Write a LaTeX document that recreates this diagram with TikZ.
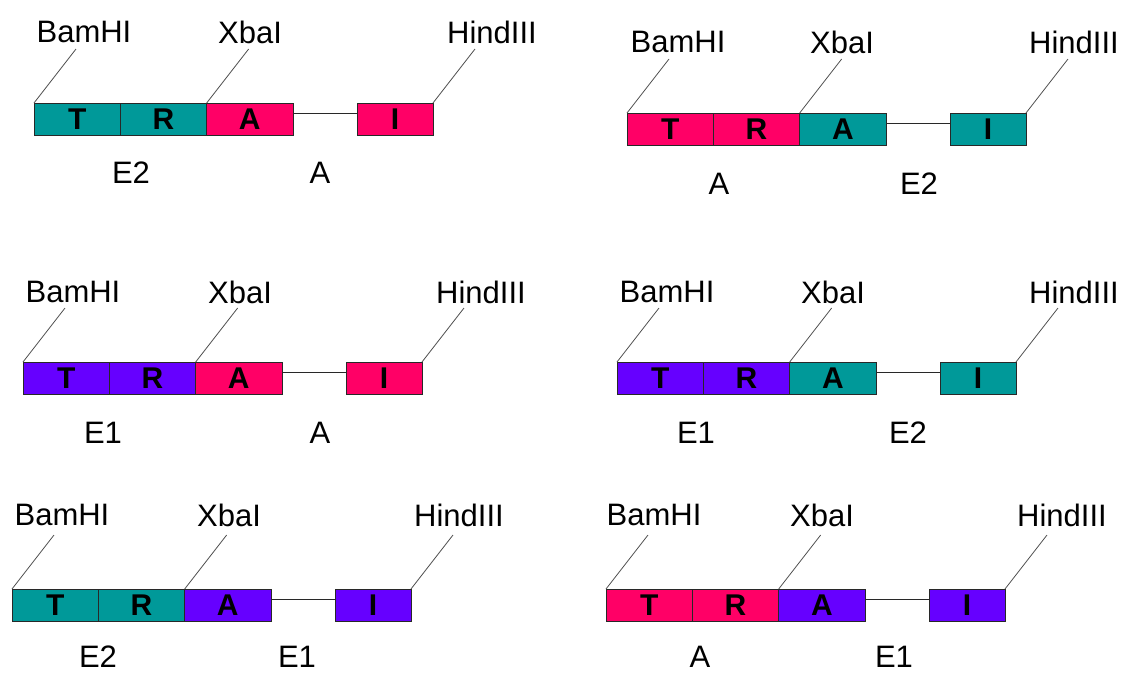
\documentclass[tikz,border=0pt]{standalone}
\usepackage{fontspec}
\setmainfont{Liberation Sans}
\usetikzlibrary{calc}
\definecolor{tealc}{RGB}{0,153,153}
\definecolor{pinkc}{RGB}{255,0,102}
\definecolor{purpc}{RGB}{102,0,255}
\definecolor{edgec}{RGB}{40,40,40}
\definecolor{diagc}{RGB}{80,80,80}
\tikzset{
  seg/.style={draw=edgec, line width=0.9pt, minimum width=86.33pt, minimum height=32pt,
    inner sep=0pt, outer sep=0pt, anchor=north west,
    font=\fontsize{30}{30}\selectfont\bfseries, text=black},
  segI/.style={seg, minimum width=76pt},
  wire/.style={draw=edgec, line width=0.9pt},
  diag/.style={draw=diagc, line width=0.8pt},
  site/.style={inner sep=0pt, font=\fontsize{31}{31}\selectfont, text=black},
  gene/.style={inner sep=0pt, font=\fontsize{31}{31}\selectfont, text=black}
}
\newcommand\cons[5]{%
  \node[seg, fill=#4] (#1T) at (#2,#3) {T};
  \node[seg, fill=#4] (#1R) at (#1T.north east) {R};
  \node[seg, fill=#5] (#1A) at (#1R.north east) {A};
  \node[segI, fill=#5] (#1I) at ($(#1A.north east)+(64,0)$) {I};
  \draw[wire] ($(#1A.north east)+(0,10.7)$) -- ($(#1I.north west)+(0,10.7)$);
  \coordinate (#1bt) at ($(#1T.north west)+(42,-54)$);
  \coordinate (#1xt) at ($(#1A.north west)+(42,-54)$);
  \coordinate (#1ht) at ($(#1I.north east)+(42,-54)$);
  \draw[diag] (#1T.north west) -- (#1bt);
  \draw[diag] (#1A.north west) -- (#1xt);
  \draw[diag] (#1I.north east) -- (#1ht);
}
\begin{document}
\begin{tikzpicture}[x=1pt,y=-1pt]
\useasboundingbox[fill=white] (0,0) rectangle (1124,673);
% construct 1
\cons{a}{34}{103}{tealc}{pinkc}
\node[site] (abam) at (84,32) {BamHI};
\node[site] (axba) at (250,32) {XbaI};
\node[site] (ahin) at (492,32) {HindIII};
\node[gene] (ag1) at (131,173) {E2};
\node[gene] (ag2) at (320,173) {A};
% construct 2
\cons{b}{627}{113}{pinkc}{tealc}
\node[site] (bbam) at (678,42) {BamHI};
\node[site] (bxba) at (842,42) {XbaI};
\node[site] (bhin) at (1074,42) {HindIII};
\node[gene] (bg1) at (719,184) {A};
\node[gene] (bg2) at (919,184) {E2};
% construct 3
\cons{c}{23}{362}{purpc}{pinkc}
\node[site] (cbam) at (73,292) {BamHI};
\node[site] (cxba) at (240,292) {XbaI};
\node[site] (chin) at (481,292) {HindIII};
\node[gene] (cg1) at (103,433) {E1};
\node[gene] (cg2) at (320,433) {A};
% construct 4
\cons{d}{617}{362}{purpc}{tealc}
\node[site] (dbam) at (667,292) {BamHI};
\node[site] (dxba) at (833,292) {XbaI};
\node[site] (dhin) at (1074,292) {HindIII};
\node[gene] (dg1) at (696,433) {E1};
\node[gene] (dg2) at (908,433) {E2};
% construct 5
\cons{e}{12}{589}{tealc}{purpc}
\node[site] (ebam) at (62,515) {BamHI};
\node[site] (exba) at (229,515) {XbaI};
\node[site] (ehin) at (459,515) {HindIII};
\node[gene] (eg1) at (98,657) {E2};
\node[gene] (eg2) at (297,657) {E1};
% construct 6
\cons{f}{606}{589}{pinkc}{purpc}
\node[site] (fbam) at (654,515) {BamHI};
\node[site] (fxba) at (822,515) {XbaI};
\node[site] (fhin) at (1062,515) {HindIII};
\node[gene] (fg1) at (700,657) {A};
\node[gene] (fg2) at (894,657) {E1};
\end{tikzpicture}
\end{document}
